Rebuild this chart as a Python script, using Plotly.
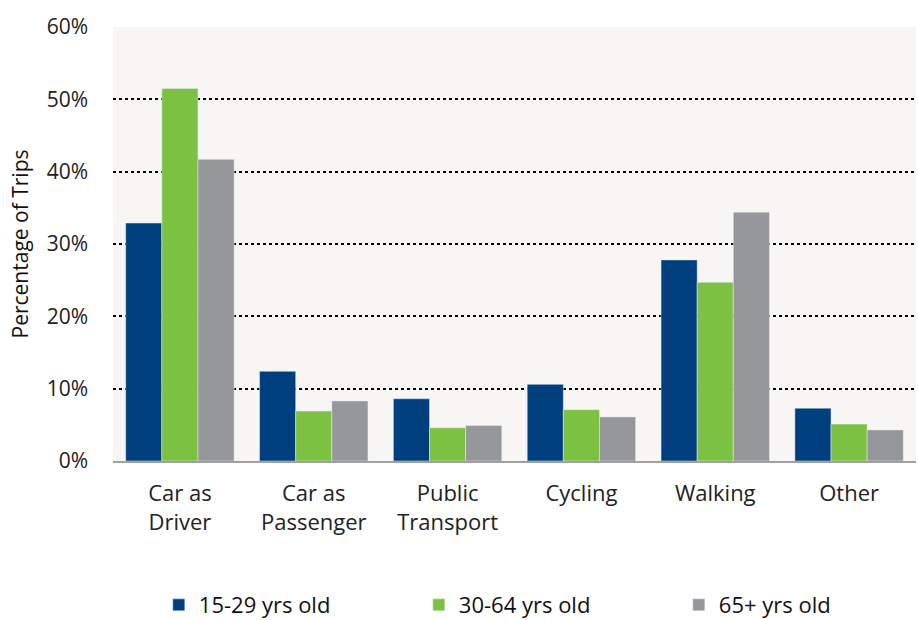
import plotly.graph_objects as go

categories = ["Car as<br>Driver", "Car as<br>Passenger", "Public<br>Transport", "Cycling", "Walking", "Other"]
age_15_29 = [32.9, 12.4, 8.6, 10.6, 27.8, 7.3]
age_30_64 = [51.5, 6.9, 4.6, 7.1, 24.7, 5.1]
age_65_plus = [41.7, 8.3, 4.9, 6.1, 34.4, 4.3]
y_ticks = [0, 10, 20, 30, 40, 50, 60]
y_labels = [f"{v}%" for v in y_ticks]

font_name = "Open Sans"

fig = go.Figure()
fig.add_trace(go.Bar(x=categories, y=age_15_29, name="15-29 yrs old", marker_color="#003f7d"))
fig.add_trace(go.Bar(x=categories, y=age_30_64, name="30-64 yrs old", marker_color="#7dc142"))
fig.add_trace(go.Bar(x=categories, y=age_65_plus, name="65+ yrs old", marker_color="#96979b"))

fig.update_layout(
    width=918, height=620,
    margin=dict(l=113, r=2, t=27, b=159),
    paper_bgcolor="white",
    plot_bgcolor="#f7f6f5",
    barmode="group",
    bargap=0.19,
    bargroupgap=0,
    font=dict(family=font_name, size=21, color="#222"),
    showlegend=True,
    legend=dict(
        orientation="h", xref="container", yref="container",
        x=0.173, y=0.058, xanchor="left", yanchor="top",
        entrywidth=215, entrywidthmode="pixels",
        font=dict(family=font_name, size=22, color="#111"),
    ),
)
fig.update_yaxes(
    range=[0, 60], tickmode="array", tickvals=y_ticks, ticktext=y_labels,
    showgrid=True, gridcolor="black", griddash="dot", gridwidth=2,
    zeroline=False, ticklabelstandoff=24, automargin=False,
    tickfont=dict(family=font_name, size=21, color="#222"),
    title=dict(text="Percentage of Trips", standoff=12,
               font=dict(family=font_name, size=21, color="#111")),
)
fig.update_xaxes(
    showline=True, linecolor="#a0a0a0", linewidth=2,
    ticklabelstandoff=12, automargin=False,
    tickfont=dict(family=font_name, size=22, color="#222"),
)

# drop the default body margin so the chart sits at the page corner
fig.write_html("out.html", config={"displayModeBar": False},
               post_script="document.body.style.margin='0';")
